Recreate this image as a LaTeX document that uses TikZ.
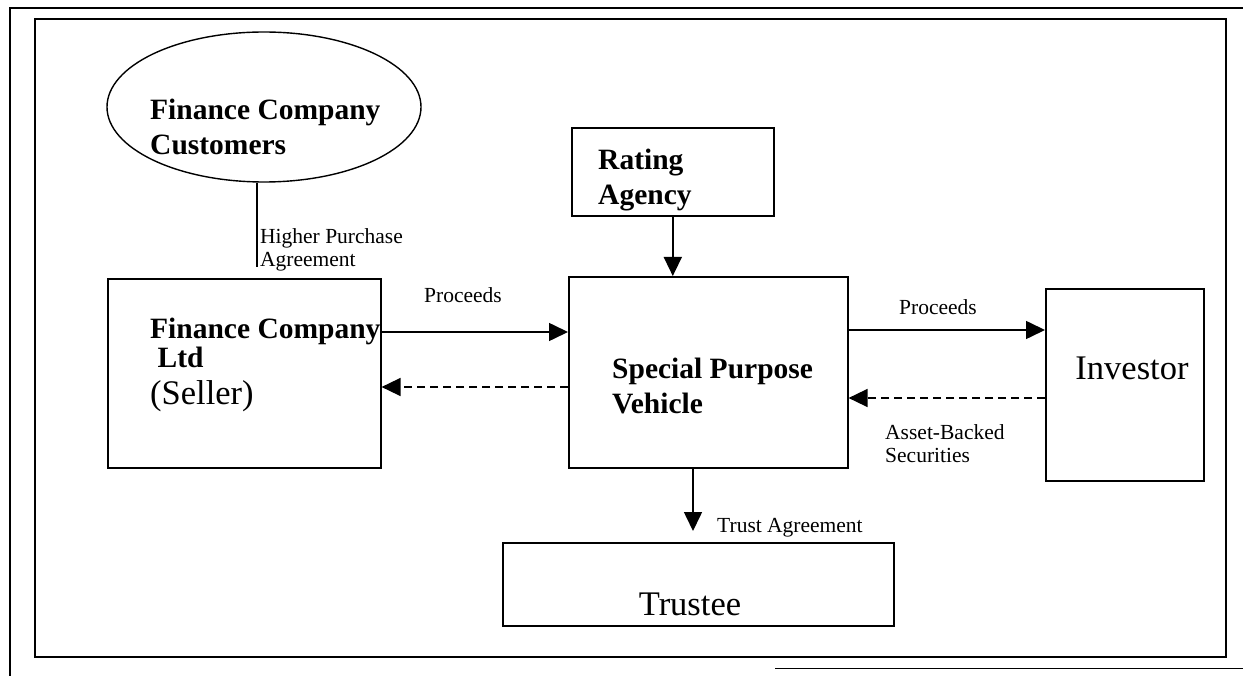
\documentclass[tikz,border=0pt]{standalone}
\usepackage{fontspec}
\setmainfont{Liberation Serif}
\usetikzlibrary{arrows.meta,shapes.geometric}

\begin{document}
\begin{tikzpicture}[x=1pt,y=-1pt,
    box/.style={draw,line width=1.6pt,inner sep=0pt,anchor=north west},
    boldtxt/.style={font=\fontsize{29.5}{35}\selectfont\bfseries,align=left,inner sep=0pt,anchor=north west},
    bigtxt/.style={font=\fontsize{34.5}{38}\selectfont,inner sep=0pt,anchor=base},
    smalltxt/.style={font=\fontsize{21.5}{23.5}\selectfont,align=left,inner sep=0pt},
    flow/.style={line width=1.6pt,-{Triangle[length=19pt,width=18pt]}},
    back/.style={flow,dash pattern=on 8pt off 5pt}]
  \useasboundingbox (0,0) rectangle (1243,676);
  % frames
  \draw[line width=1.4pt] (1243,8) -- (10,8) -- (10,676);
  \draw[line width=1pt] (775,668) -- (1243,668);
  \draw[line width=1.6pt] (35,19) rectangle (1226,657);
  % customers
  \node[draw,ellipse,line width=1.4pt,minimum width=314pt,minimum height=150pt,inner sep=0pt] (cust) at (264,107) {};
  \node[boldtxt] (custtxt) at (150,99) {Finance Company\\Customers};
  % boxes
  \node[box,minimum width=273pt,minimum height=189pt] (seller) at (107,278) {};
  \node[box,minimum width=202pt,minimum height=88pt] (rating) at (571,127) {};
  \node[box,minimum width=279pt,minimum height=191pt] (spv) at (568,276) {};
  \node[box,minimum width=158pt,minimum height=192pt] (investor) at (1045,288) {};
  \node[box,minimum width=391pt,minimum height=83pt] (trustee) at (502,542) {};
  % box texts
  \node[boldtxt,font=\fontsize{29.5}{29}\selectfont\bfseries] (sellertxt) at (150,318) {Finance Company\\~Ltd};
  \node[bigtxt,anchor=base west] (sellerrole) at (150,404) {(Seller)};
  \node[boldtxt] (ratingtxt) at (598,149) {Rating\\Agency};
  \node[boldtxt] (spvtxt) at (612,358) {Special Purpose\\Vehicle};
  \node[bigtxt] (investortxt) at (1132,380) {Investor};
  \node[bigtxt] (trusteetxt) at (690,615) {Trustee};
  % connectors
  \coordinate (hpend) at (257,267);
  \draw[line width=1.4pt] (hpend |- cust.south) -- (hpend);
  \node[smalltxt,anchor=north west] (hpa) at (260,228) {Higher Purchase\\Agreement};
  \draw[flow] (seller.east |- 0,332) -- (spv.west |- 0,332);
  \node[smalltxt,anchor=base] (proc1) at (463,303) {Proceeds};
  \draw[back] (spv.west |- 0,387) -- (seller.east |- 0,387);
  \draw[flow] (spv.east |- 0,330) -- (investor.west |- 0,330);
  \node[smalltxt,anchor=base] (proc2) at (938,315) {Proceeds};
  \draw[back] (investor.west |- 0,398) -- (spv.east |- 0,398);
  \node[smalltxt,anchor=north west] (abs) at (885,424) {Asset-Backed\\Securities};
  \draw[flow] (rating.south) -- (rating.south |- spv.north);
  \coordinate (tatip) at (693,531);
  \draw[flow] (spv.south -| tatip) -- (tatip);
  \node[smalltxt,anchor=base west] (trustagr) at (717,532) {Trust Agreement};
\end{tikzpicture}
\end{document}
